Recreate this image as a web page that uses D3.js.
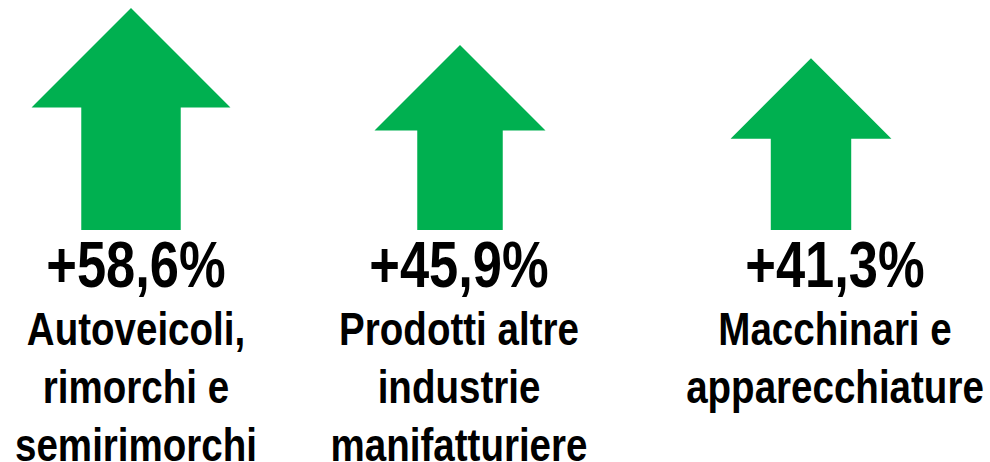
<!DOCTYPE html>
<html>
<head>
<meta charset="utf-8">
<script src="https://cdn.jsdelivr.net/npm/d3@7"></script>
<style>
  body { margin: 0; background: #fff; }
  svg { display: block; }
  .pct, .lbl { font-weight: bold; fill: #000; text-anchor: middle; }
</style>
</head>
<body>
<div id="chart"></div>
<script>
// categories and growth values
var categories = ["auto", "altre", "macchinari"];
var values = [58.6, 45.9, 41.3];
var valueLabels = ["+58,6%", "+45,9%", "+41,3%"];
var labelLines = [
  ["Autoveicoli,", "rimorchi e", "semirimorchi"],
  ["Prodotti altre", "industrie", "manifatturiere"],
  ["Macchinari e", "apparecchiature"]
];

var width = 990, height = 462;
var baseY = 230;

var svg = d3.select("#chart").append("svg")
  .attr("width", width)
  .attr("height", height);

// column positions
var arrowX = d3.scaleOrdinal().domain(categories).range([131, 460, 811]);
var textX = d3.scaleOrdinal().domain(categories).range([136, 459, 835]);

// arrow sizes from value
var heightScale = d3.scaleLinear().domain([40, 60]).range([168, 226]);
var headScale = d3.scaleLinear().domain([40, 60]).range([79, 101]);

var rows = categories.map(function (c, i) {
  return { cat: c, value: values[i], label: valueLabels[i], lines: labelLines[i] };
});

function arrowPath(d) {
  var cx = arrowX(d.cat);
  var h = heightScale(d.value);
  var hw = headScale(d.value);
  var sw = hw / 2;
  var tip = baseY - h;
  var neck = tip + hw;
  return d3.line()([
    [cx - sw, baseY], [cx - sw, neck], [cx - hw, neck], [cx, tip],
    [cx + hw, neck], [cx + sw, neck], [cx + sw, baseY]
  ]) + "Z";
}

svg.selectAll("path.arrow")
  .data(rows)
  .enter()
  .append("path")
  .attr("class", "arrow")
  .attr("d", arrowPath)
  .attr("fill", "#00B050");

// pick narrow font if installed, otherwise squeeze the regular one
var narrowFam = "'Liberation Sans Narrow', 'Arial Narrow'";
var test1 = svg.append("text").style("font-family", narrowFam + ", 'Liberation Sans'").style("font-weight", "bold").style("font-size", "50px").text("Macchinari");
var test2 = svg.append("text").style("font-family", "'Liberation Sans'").style("font-weight", "bold").style("font-size", "50px").text("Macchinari");
var ratio = test1.node().getComputedTextLength() / test2.node().getComputedTextLength();
test1.remove();
test2.remove();
var useNarrow = ratio < 0.9;
var fam = useNarrow ? narrowFam + ", sans-serif" : "'Liberation Sans', Arial, sans-serif";
var sx = useNarrow ? 1 : 0.82;

var groups = svg.selectAll("g.col")
  .data(rows)
  .enter()
  .append("g")
  .attr("class", "col")
  .attr("transform", function (d) { return "translate(" + textX(d.cat) + ",0) scale(" + sx + ",1)"; });

groups.append("text")
  .attr("class", "pct")
  .attr("y", 287)
  .style("font-family", fam)
  .style("font-size", "64px")
  .text(function (d) { return d.label; });

groups.selectAll("text.lbl")
  .data(function (d) { return d.lines; })
  .enter()
  .append("text")
  .attr("class", "lbl")
  .attr("y", function (d, i) { return 345 + i * 58; })
  .style("font-family", fam)
  .style("font-size", "47px")
  .text(function (d) { return d; });
</script>
</body>
</html>
